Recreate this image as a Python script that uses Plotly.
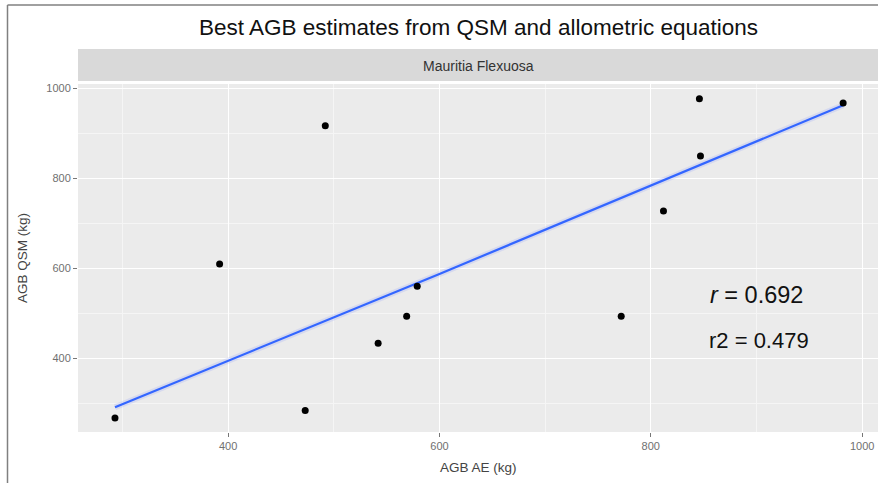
import plotly.graph_objects as go

# Data
agb_ae = [293, 392, 473, 492, 542, 569, 579, 772, 812, 846, 847, 982]
agb_qsm = [267, 609, 284, 916, 433, 493, 560, 493, 727, 976, 849, 967]
# fitted regression line as drawn in the reference
fit_x = [293, 600, 982]
fit_y = [291, 587, 962]
x_ticks = [400, 600, 800, 1000]
y_ticks = [400, 600, 800, 1000]
minor_ticks = [300, 500, 700, 900]
title_text = "Best AGB estimates from QSM and allometric equations"
strip_text = "Mauritia Flexuosa"
r_text = "<i>r</i> = 0.692"
r2_text = "r2 = 0.479"

W, H = 878, 483
L, R, T, B = 78, 0, 84, 51
pw, ph = W - L - R, H - T - B


def px_x(p):
    return (p - L) / pw


def px_y(p):
    return (H - B - p) / ph


FONT = "Liberation Sans, Arial, sans-serif"

fig = go.Figure()
fig.add_trace(go.Scatter(x=fit_x, y=fit_y, mode="lines",
                         line=dict(color="rgba(120,140,255,0.18)", width=6),
                         hoverinfo="skip", showlegend=False))
fig.add_trace(go.Scatter(x=fit_x, y=fit_y, mode="lines",
                         line=dict(color="#3366FF", width=2.2),
                         hoverinfo="skip", showlegend=False))
fig.add_trace(go.Scatter(x=agb_ae, y=agb_qsm, mode="markers",
                         marker=dict(color="black", size=7),
                         showlegend=False))

axis_common = dict(
    showgrid=True, gridcolor="white", gridwidth=1.3,
    zeroline=False, showline=False,
    ticks="outside", ticklen=4, tickwidth=1, tickcolor="#777777",
    tickfont=dict(family=FONT, size=11, color="#707070"),
    tickmode="array",
)
fig.update_xaxes(range=[258, 1015], tickvals=x_ticks, ticktext=[str(v) for v in x_ticks],
                 minor=dict(tickvals=minor_ticks, showgrid=True,
                            gridcolor="#f5f5f5", gridwidth=0.7, ticks=""),
                 **axis_common)
fig.update_yaxes(range=[236, 1009], tickvals=y_ticks, ticktext=[str(v) for v in y_ticks],
                 minor=dict(tickvals=minor_ticks, showgrid=True,
                            gridcolor="#f5f5f5", gridwidth=0.7, ticks=""),
                 **axis_common)

shapes = [
    dict(type="rect", xref="paper", yref="paper", x0=0, x1=1,
         y0=px_y(81), y1=px_y(49), fillcolor="#d9d9d9", line=dict(width=0), layer="below"),
    dict(type="line", xref="paper", yref="paper", x0=px_x(7.5), x1=px_x(7.5),
         y0=px_y(483), y1=px_y(5), line=dict(color="#808080", width=1.5)),
    dict(type="line", xref="paper", yref="paper", x0=px_x(7.5), x1=px_x(880),
         y0=px_y(5), y1=px_y(5), line=dict(color="#808080", width=1.5)),
]

annotations = [
    dict(text=title_text, xref="paper", yref="paper", x=0.5, y=px_y(28),
         showarrow=False, xanchor="center", yanchor="middle",
         font=dict(family=FONT, size=22.5, color="#111111")),
    dict(text=strip_text, xref="paper", yref="paper", x=0.5, y=px_y(66),
         showarrow=False, xanchor="center", yanchor="middle",
         font=dict(family=FONT, size=14, color="#333333")),
    dict(text="AGB AE (kg)", xref="paper", yref="paper", x=0.5, y=px_y(467),
         showarrow=False, xanchor="center", yanchor="middle",
         font=dict(family=FONT, size=13.5, color="#444444")),
    dict(text="AGB QSM (kg)", xref="paper", yref="paper", x=px_x(22), y=0.5,
         showarrow=False, xanchor="center", yanchor="middle", textangle=-90,
         font=dict(family=FONT, size=13.5, color="#444444")),
    dict(text=r_text, x=900, y=540, xref="x", yref="y", showarrow=False,
         xanchor="center", yanchor="middle",
         font=dict(family=FONT, size=23.5, color="#111111")),
    dict(text=r2_text, x=902, y=440, xref="x", yref="y", showarrow=False,
         xanchor="center", yanchor="middle",
         font=dict(family=FONT, size=22, color="#111111")),
]

fig.update_layout(
    width=W, height=H,
    margin=dict(l=L, r=R, t=T, b=B, pad=0),
    paper_bgcolor="white", plot_bgcolor="#ebebeb",
    shapes=shapes, annotations=annotations,
    showlegend=False,
    font=dict(family=FONT),
)

fig.write_html("out.html", config={"displayModeBar": False},
               post_script="document.body.style.margin='0';document.body.style.overflow='hidden';")
